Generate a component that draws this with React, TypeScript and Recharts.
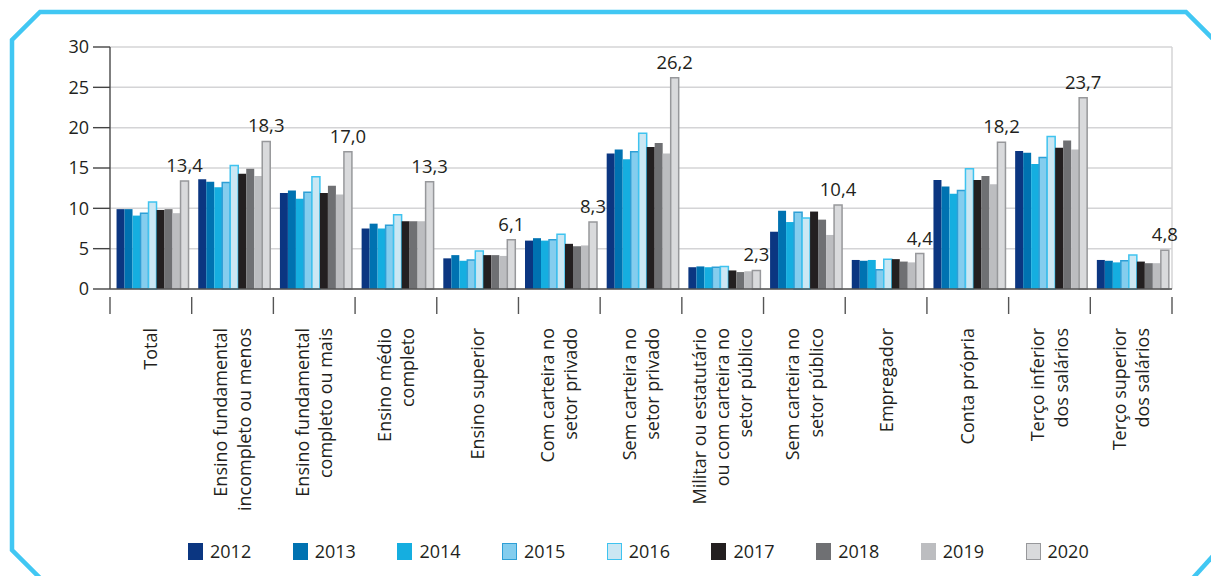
import { BarChart, Bar, XAxis, YAxis, CartesianGrid, LabelList } from 'recharts';

const categories = [
  ['Total'],
  ['Ensino fundamental', 'incompleto ou menos'],
  ['Ensino fundamental', 'completo ou mais'],
  ['Ensino médio', 'completo'],
  ['Ensino superior'],
  ['Com carteira no', 'setor privado'],
  ['Sem carteira no', 'setor privado'],
  ['Militar ou estatutário', 'ou com carteira no', 'setor público'],
  ['Sem carteira no', 'setor público'],
  ['Empregador'],
  ['Conta própria'],
  ['Terço inferior', 'dos salários'],
  ['Terço superior', 'dos salários'],
];

const years = ['2012', '2013', '2014', '2015', '2016', '2017', '2018', '2019', '2020'];

const y2012 = [9.9, 13.6, 11.9, 7.5, 3.8, 6.0, 16.8, 2.7, 7.1, 3.6, 13.5, 17.1, 3.6];
const y2013 = [9.9, 13.3, 12.2, 8.1, 4.2, 6.3, 17.3, 2.8, 9.7, 3.5, 12.7, 16.9, 3.5];
const y2014 = [9.1, 12.6, 11.2, 7.5, 3.5, 6.0, 16.1, 2.7, 8.3, 3.6, 11.8, 15.5, 3.3];
const y2015 = [9.4, 13.2, 12.0, 7.9, 3.6, 6.1, 17.0, 2.7, 9.5, 2.4, 12.2, 16.3, 3.5];
const y2016 = [10.8, 15.3, 13.9, 9.2, 4.7, 6.8, 19.3, 2.8, 8.8, 3.7, 14.9, 18.9, 4.2];
const y2017 = [9.8, 14.3, 11.9, 8.4, 4.2, 5.6, 17.6, 2.3, 9.6, 3.7, 13.5, 17.5, 3.4];
const y2018 = [9.9, 14.9, 12.8, 8.4, 4.2, 5.3, 18.1, 2.1, 8.6, 3.4, 14.0, 18.4, 3.2];
const y2019 = [9.4, 14.0, 11.7, 8.4, 4.1, 5.4, 16.8, 2.2, 6.7, 3.3, 13.0, 17.3, 3.2];
const y2020 = [13.4, 18.3, 17.0, 13.3, 6.1, 8.3, 26.2, 2.3, 10.4, 4.4, 18.2, 23.7, 4.8];

const yTicks = [0, 5, 10, 15, 20, 25, 30];

const series = [y2012, y2013, y2014, y2015, y2016, y2017, y2018, y2019, y2020];
const FILLS = ['#0b3681', '#0072b1', '#15aee0', '#84cdee', '#cbe7f3', '#231f20', '#6f7073', '#bcbdc0', '#d9dadc'];
const STROKES = [null, null, null, '#2e9fd6', '#3fc3ef', null, null, null, '#97989b'];

const data = categories.map((lines, i) => {
  const row: Record<string, unknown> = { name: lines.join(' '), lines };
  years.forEach((y, k) => {
    row[y] = series[k][i];
  });
  return row;
});

const FONT = '"Open Sans", "Noto Sans", sans-serif';
const BAND = (1172 - 110) / categories.length;

function CategoryTick(props: any) {
  const { x, y, index, payload } = props;
  const lines: string[] = categories[index] || [payload.value];
  const n = lines.length;
  return (
    <g transform={`translate(${x},${y})`}>
      <line x1={-BAND / 2} x2={-BAND / 2} y1={0} y2={17} stroke="#555" strokeWidth={1.4} />
      {index === categories.length - 1 && (
        <line x1={BAND / 2} x2={BAND / 2} y1={0} y2={17} stroke="#555" strokeWidth={1.4} />
      )}
      <text
        transform="rotate(-90)"
        textAnchor="end"
        fontSize={18}
        fill="#231f20"
        fontFamily={FONT}
      >
        {lines.map((l, i) => (
          <tspan key={i} x={-31} y={(i - (n - 1) / 2) * 23.3 + 6.5}>
            {l}
          </tspan>
        ))}
      </text>
    </g>
  );
}

function Frame() {
  return (
    <svg width={1211} height={576} style={{ position: 'absolute', left: 0, top: 0 }}>
      <polyline
        points="40,578 12,550 12,40 40,12 1186,12 1214,40"
        fill="none"
        stroke="#41c7f3"
        strokeWidth={4.5}
      />
      <line x1={1193} y1={578} x2={1213} y2={556} stroke="#41c7f3" strokeWidth={4.5} />
    </svg>
  );
}

function YearLegend() {
  return (
    <div style={{ position: 'absolute', left: 188, top: 539, display: 'flex', fontFamily: FONT }}>
      {years.map((y, k) => (
        <div key={y} style={{ width: 104.7, display: 'flex', alignItems: 'center' }}>
          <span
            style={{
              display: 'inline-block',
              width: 15,
              height: 17,
              boxSizing: 'border-box',
              background: FILLS[k],
              border: STROKES[k] ? `1.5px solid ${STROKES[k]}` : 'none',
              marginRight: 7,
            }}
          />
          <span style={{ fontSize: 18, color: '#231f20' }}>{y}</span>
        </div>
      ))}
    </div>
  );
}

export default function App() {
  return (
    <div style={{ position: 'absolute', left: 0, top: 0, width: 1211, height: 576, background: '#fff' }}>
      <Frame />
      <div style={{ position: 'absolute', left: 0, top: 0 }}>
        <BarChart
          width={1211}
          height={576}
          data={data}
          margin={{ top: 47, right: 39, left: 0, bottom: 0 }}
          barCategoryGap="8%"
          barGap={0}
        >
          <CartesianGrid
            vertical={true}
            stroke="#d4d4d6"
            strokeWidth={1.5}
            verticalCoordinatesGenerator={({ offset }: any) => [offset.left + offset.width]}
          />
          <XAxis
            dataKey="name"
            height={287}
            interval={0}
            axisLine={{ stroke: '#555', strokeWidth: 1.5 }}
            tickLine={false}
            tick={<CategoryTick />}
          />
          <YAxis
            width={110}
            domain={[0, 30]}
            ticks={yTicks}
            tickSize={17}
            tickMargin={4}
            axisLine={{ stroke: '#555', strokeWidth: 1.5 }}
            tickLine={{ stroke: '#444', strokeWidth: 1.4 }}
            tick={{ fontSize: 18, fill: '#231f20', fontFamily: FONT }}
          />
          {years.map((y, k) => (
            <Bar
              key={y}
              dataKey={y}
              fill={FILLS[k]}
              stroke={STROKES[k] || undefined}
              strokeWidth={STROKES[k] ? 1.5 : 0}
              isAnimationActive={false}
            >
              {y === '2020' && (
                <LabelList
                  dataKey={y}
                  position="top"
                  offset={9}
                  formatter={(v: number) => v.toFixed(1).replace('.', ',')}
                  style={{ fontSize: 18.5, fill: '#231f20', fontFamily: FONT }}
                />
              )}
            </Bar>
          ))}
        </BarChart>
      </div>
      <YearLegend />
    </div>
  );
}
